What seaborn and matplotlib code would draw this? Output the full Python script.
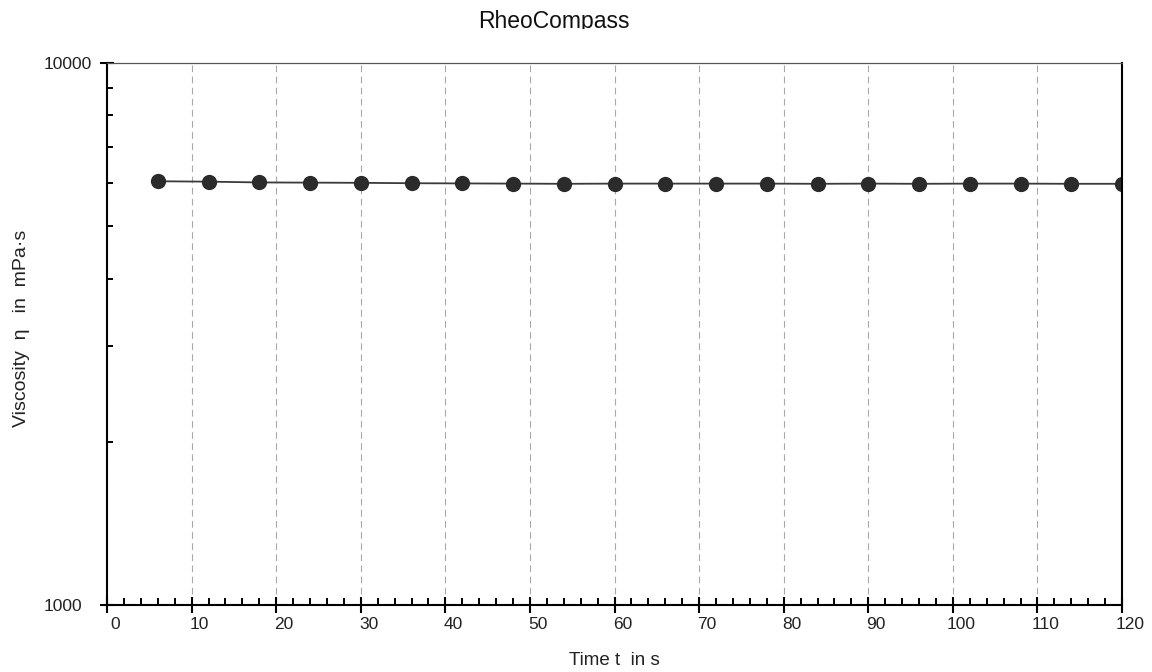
import matplotlib
matplotlib.use("Agg")
import matplotlib.pyplot as plt
import matplotlib.transforms as mtransforms
from matplotlib.ticker import FixedLocator, NullFormatter, MultipleLocator
import seaborn as sns
import pandas as pd

# Measurement series: time in s, viscosity in mPa·s
time_s = [6, 12, 18, 24, 30, 36, 42, 48, 54, 60,
          66, 72, 78, 84, 90, 96, 102, 108, 114, 120]
viscosity = [6050, 6040, 6020, 6015, 6010, 6000, 5995, 5990, 5985, 5990,
             5990, 5990, 5990, 5985, 5990, 5985, 5990, 5990, 5985, 5985]
x_ticks = [0, 10, 20, 30, 40, 50, 60, 70, 80, 90, 100, 110, 120]
y_ticks = [1000, 10000]
y_minor = [2000, 3000, 4000, 5000, 6000, 7000, 8000, 9000]

df = pd.DataFrame({"t": time_s, "eta": viscosity})

sns.set_style("white")
plt.rcParams["font.family"] = ["Liberation Sans", "DejaVu Sans"]

fig = plt.figure(figsize=(11.52, 6.72), dpi=100)
ax = fig.add_axes([0.0929, 0.0997, 0.8811, 0.8066])

sns.lineplot(data=df, x="t", y="eta", ax=ax, color="#3a3a3a", linewidth=1.3,
             marker="o", markersize=11, markeredgewidth=0, markerfacecolor="#2b2b2b")

ax.set_yscale("log")
ax.set_xlim(0, 120)
ax.set_ylim(1000, 10000)

ax.xaxis.set_major_locator(FixedLocator(x_ticks))
ax.xaxis.set_minor_locator(MultipleLocator(2))
ax.set_xticklabels([str(v) for v in x_ticks])
ax.yaxis.set_major_locator(FixedLocator(y_ticks))
ax.yaxis.set_minor_locator(FixedLocator(y_minor))
ax.set_yticklabels([str(v) for v in y_ticks])
ax.yaxis.set_minor_formatter(NullFormatter())

ax.tick_params(axis="x", which="major", direction="inout", length=12, width=1.5,
               color="black", labelsize=12.5, labelcolor="#222222", pad=2.5,
               bottom=True)
ax.tick_params(axis="x", which="minor", direction="in", length=5, width=1.4,
               color="black", bottom=True)
ax.tick_params(axis="y", which="major", direction="inout", length=9.4, width=1.5,
               color="black", labelsize=12.5, labelcolor="#222222", pad=41.3,
               left=True)
ax.tick_params(axis="y", which="minor", direction="in", length=4.3, width=1.4,
               color="black", left=True)

# x tick labels sit a little right of their ticks; y labels share a left edge
shift = mtransforms.ScaledTranslation(8 / 100, 0, fig.dpi_scale_trans)
for lab in ax.get_xticklabels():
    lab.set_transform(lab.get_transform() + shift)
for lab in ax.get_yticklabels():
    lab.set_horizontalalignment("left")

# Vertical dashed gridlines at the labelled times
ax.xaxis.grid(True, which="major", linestyle=(0, (6, 4)), color="#a8a8a8", linewidth=0.8)
ax.yaxis.grid(False)

for side in ("left", "bottom", "right"):
    ax.spines[side].set_visible(True)
    ax.spines[side].set_color("black")
    ax.spines[side].set_linewidth(1.5)
ax.spines["top"].set_visible(True)
ax.spines["top"].set_color("#555555")
ax.spines["top"].set_linewidth(0.9)

ax.set_xlabel("Time t  in s", fontsize=13.5, color="#222222", va="top")
ax.xaxis.set_label_coords(0.5, -0.087)
ax.set_ylabel("Viscosity  η   in  mPa·s", fontsize=14, color="#222222")
ax.yaxis.set_label_coords(-0.076, 0.51)

# Title, cut off just under its baseline
title = fig.text(554 / 1152, (672 - 28) / 672, "RheoCompass", fontsize=16.5,
                 color="#111111", ha="center", va="baseline")
title.set_clip_box(mtransforms.Bbox.from_extents(0, 672 - 29, 1152, 672))
title.set_clip_on(True)

fig.savefig("out.png", dpi=100, facecolor="white")
